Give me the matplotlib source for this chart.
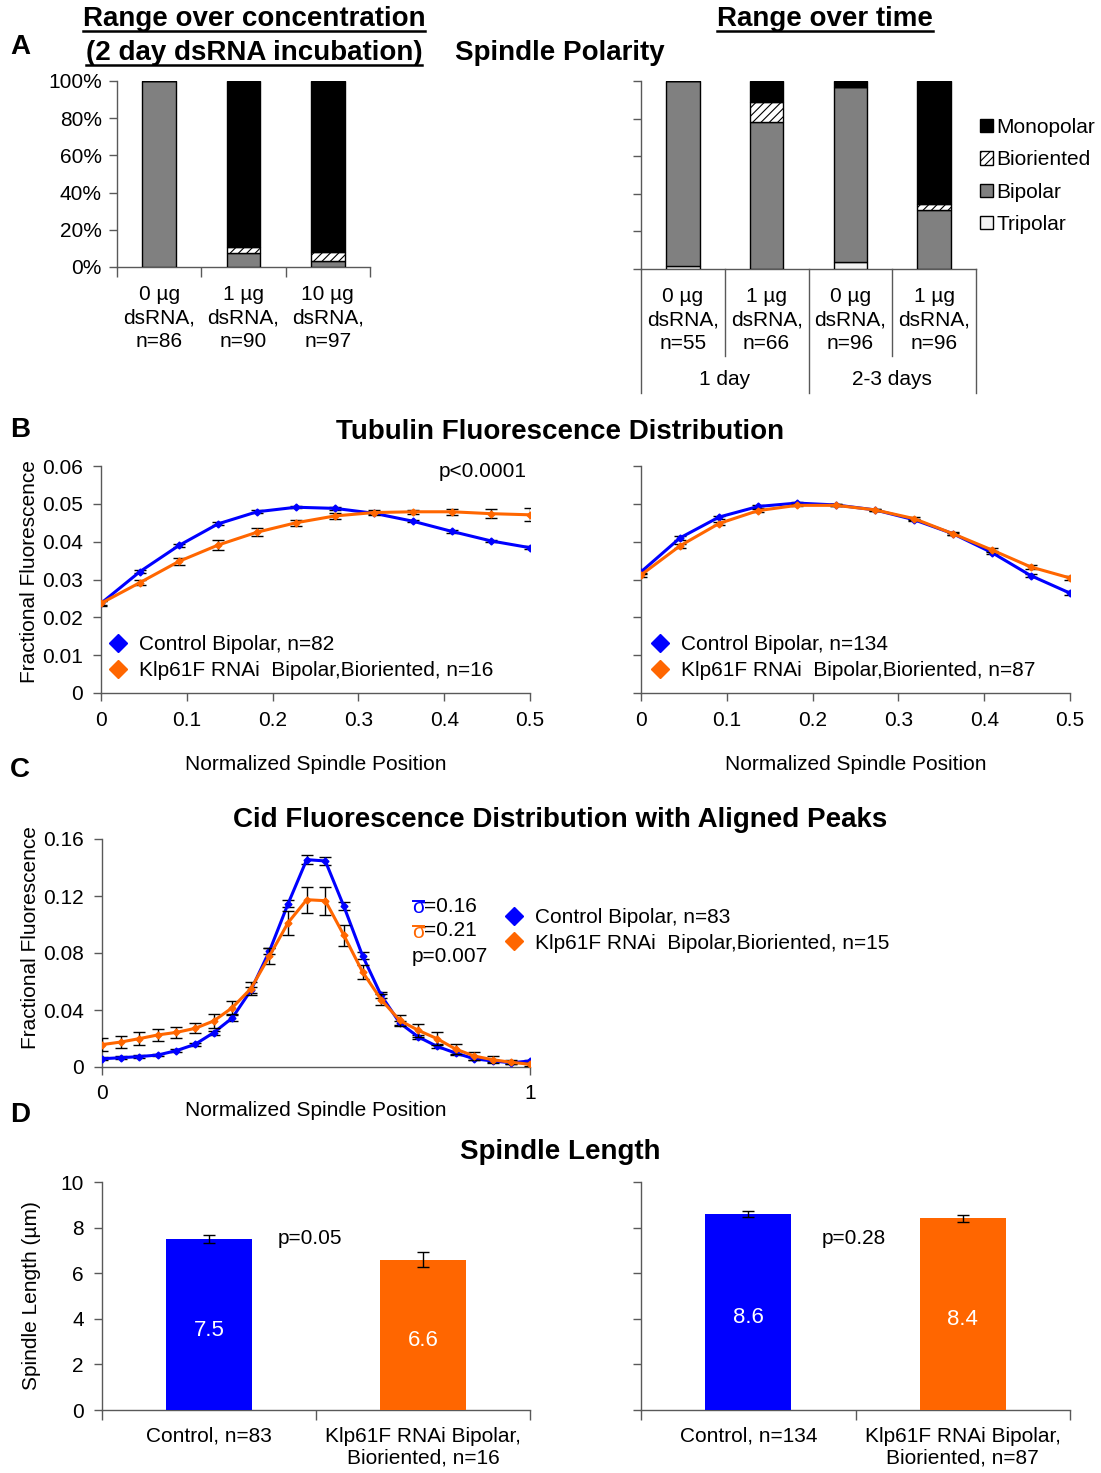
import matplotlib
matplotlib.use('Agg')
import matplotlib.pyplot as plt
from matplotlib.lines import Line2D
from matplotlib.patches import Patch

plt.rcParams['font.family'] = ['Liberation Sans', 'DejaVu Sans']
plt.rcParams['font.size'] = 15
plt.rcParams['hatch.linewidth'] = 0.8

W, H = 1101, 1473
BLUE = '#0000FF'
ORANGE = '#FF6600'
AXC = '#595959'

# ---- panel A: spindle polarity (percent of spindles) ----
conc_labels = ['0 µg\ndsRNA,\nn=86', '1 µg\ndsRNA,\nn=90', '10 µg\ndsRNA,\nn=97']
conc_tripolar = [0, 0, 0]
conc_bipolar = [100, 7.7, 3.0]
conc_bioriented = [0, 2.9, 5.1]
conc_monopolar = [0, 89.4, 91.9]

time_labels = ['0 µg\ndsRNA,\nn=55', '1 µg\ndsRNA,\nn=66', '0 µg\ndsRNA,\nn=96', '1 µg\ndsRNA,\nn=96']
time_groups = ['1 day', '2-3 days']
time_tripolar = [1.8, 0, 3.5, 0]
time_bipolar = [98.2, 78.4, 93.1, 31.5]
time_bioriented = [0, 10.4, 0, 3.0]
time_monopolar = [0, 11.2, 3.4, 65.5]

pct_ticks = [0, 20, 40, 60, 80, 100]

# ---- panel B: tubulin fluorescence ----
tub_x = [0, 0.0455, 0.0909, 0.1364, 0.1818, 0.2273, 0.2727, 0.3182, 0.3636, 0.4091, 0.4545, 0.5]
tub1_ctrl = [0.0237, 0.0321, 0.0390, 0.0447, 0.0479, 0.0491, 0.0488, 0.0475, 0.0454, 0.0427, 0.0402, 0.0384]
tub1_ctrl_err = [0.0006, 0.0005, 0.0004, 0.0004, 0.0004, 0.0003, 0.0003, 0.0003, 0.0003, 0.0003, 0.0003, 0.0004]
tub1_rnai = [0.0237, 0.0292, 0.0348, 0.0391, 0.0425, 0.0450, 0.0468, 0.0477, 0.0479, 0.0479, 0.0474, 0.0471]
tub1_rnai_err = [0.0005, 0.0007, 0.0010, 0.0014, 0.0010, 0.0008, 0.0007, 0.0006, 0.0006, 0.0008, 0.0012, 0.0017]
tub2_ctrl = [0.0320, 0.0410, 0.0465, 0.0493, 0.0502, 0.0497, 0.0484, 0.0458, 0.0421, 0.0371, 0.0310, 0.0264]
tub2_ctrl_err = [0.0005, 0.0005, 0.0004, 0.0004, 0.0003, 0.0003, 0.0003, 0.0003, 0.0003, 0.0004, 0.0004, 0.0005]
tub2_rnai = [0.0312, 0.0389, 0.0448, 0.0482, 0.0496, 0.0496, 0.0484, 0.0461, 0.0421, 0.0378, 0.0333, 0.0304]
tub2_rnai_err = [0.0005, 0.0005, 0.0005, 0.0004, 0.0003, 0.0003, 0.0003, 0.0004, 0.0004, 0.0005, 0.0006, 0.0006]
tub_yticks = [0, 0.01, 0.02, 0.03, 0.04, 0.05, 0.06]
tub_xticks = [0, 0.1, 0.2, 0.3, 0.4, 0.5]

# ---- panel C: cid fluorescence ----
cid_x = [0, 0.0435, 0.087, 0.1304, 0.1739, 0.2174, 0.2609, 0.3043, 0.3478, 0.3913, 0.4348, 0.4783,
         0.5217, 0.5652, 0.6087, 0.6522, 0.6957, 0.7391, 0.7826, 0.8261, 0.8696, 0.913, 0.9565, 1.0]
cid_ctrl = [0.0058, 0.0065, 0.0073, 0.0084, 0.0115, 0.0159, 0.0241, 0.0344, 0.0538, 0.0814, 0.1146, 0.1455,
            0.1446, 0.1127, 0.0781, 0.0503, 0.0309, 0.0211, 0.0145, 0.0098, 0.0058, 0.0042, 0.0030, 0.0042]
cid_ctrl_err = [0.0012, 0.0011, 0.0010, 0.0010, 0.0011, 0.0012, 0.0015, 0.0018, 0.0020, 0.0022, 0.0026, 0.0030,
                0.0030, 0.0028, 0.0023, 0.0020, 0.0017, 0.0015, 0.0013, 0.0012, 0.0010, 0.0009, 0.0008, 0.0008]
cid_rnai = [0.0157, 0.0175, 0.0199, 0.0225, 0.0243, 0.0271, 0.0323, 0.0416, 0.0550, 0.0779, 0.1013, 0.1174,
            0.1167, 0.0924, 0.0667, 0.0473, 0.0327, 0.0257, 0.0199, 0.0126, 0.0077, 0.0051, 0.0033, 0.0019]
cid_rnai_err = [0.0047, 0.0045, 0.0047, 0.0044, 0.0040, 0.0035, 0.0047, 0.0044, 0.0043, 0.0055, 0.0084, 0.0090,
                0.0097, 0.0073, 0.0050, 0.0037, 0.0037, 0.0043, 0.0047, 0.0035, 0.0030, 0.0023, 0.0015, 0.0010]
cid_yticks = [0, 0.04, 0.08, 0.12, 0.16]
cid_xticks = [0, 1]

# ---- panel D: spindle length ----
len1_labels = ['Control, n=83', 'Klp61F RNAi Bipolar,\nBioriented, n=16']
len1_vals = [7.5, 6.6]
len1_err = [0.18, 0.34]
len2_labels = ['Control, n=134', 'Klp61F RNAi Bipolar,\nBioriented, n=87']
len2_vals = [8.6, 8.4]
len2_err = [0.13, 0.17]
len_yticks = [0, 2, 4, 6, 8, 10]


fig = plt.figure(figsize=(W / 100, H / 100), dpi=100)


def box(x0, y0, x1, y1):
    # pixel box (top-left origin) -> figure rect
    return [x0 / W, 1 - y1 / H, (x1 - x0) / W, (y1 - y0) / H]


def ftext(x, y, s, **kw):
    kw.setdefault('ha', 'center')
    kw.setdefault('va', 'center')
    return fig.text(x / W, 1 - y / H, s, **kw)


def style(ax):
    for s in ['top', 'right']:
        ax.spines[s].set_visible(False)
    for s in ['left', 'bottom']:
        ax.spines[s].set_color(AXC)
        ax.spines[s].set_linewidth(1.0)
    ax.tick_params(color=AXC, length=6, width=1, direction='out', labelsize=15)


def stacked(ax, labels, layers):
    n = len(labels)
    bottom = [0.0] * n
    for vals, col, hatch in layers:
        ax.bar(range(n), vals, 0.4, bottom=bottom, color=col, edgecolor='black',
               hatch=hatch, linewidth=1, zorder=3)
        bottom = [b + v for b, v in zip(bottom, vals)]
    ax.set_xlim(-0.5, n - 0.5)
    ax.set_ylim(0, 100)
    ax.set_yticks(pct_ticks)
    ax.set_xticks([i - 0.5 for i in range(n + 1)])
    ax.set_xticklabels([])
    ax.set_xticks(range(n), minor=True)
    ax.set_xticklabels(labels, minor=True, linespacing=1.3)
    ax.tick_params(axis='x', which='minor', length=0, pad=13, labelsize=15)
    ax.tick_params(axis='x', which='major', length=7)


GRAY = '#808080'
LIGHT = '#f2f2f2'

# ---------------- A ----------------
axA1 = fig.add_axes(box(117, 81, 370, 267))
style(axA1)
stacked(axA1, conc_labels, [(conc_tripolar, LIGHT, None), (conc_bipolar, GRAY, None),
                            (conc_bioriented, 'white', '////'), (conc_monopolar, 'black', None)])
axA1.set_yticklabels([f'{v}%' for v in pct_ticks])
axA1.tick_params(axis='y', pad=5)

axA2 = fig.add_axes(box(641, 81, 976, 269))
style(axA2)
stacked(axA2, time_labels, [(time_tripolar, LIGHT, None), (time_bipolar, GRAY, None),
                            (time_bioriented, 'white', '////'), (time_monopolar, 'black', None)])
axA2.set_yticklabels([])
axA2.tick_params(axis='x', which='major', length=0)
tr = axA2.get_xaxis_transform()
for xb in [-0.5, 0.5, 1.5, 2.5, 3.5]:
    yb = -0.66 if xb in (-0.5, 1.5, 3.5) else -0.463
    axA2.plot([xb, xb], [0, yb], color=AXC, lw=1, transform=tr, clip_on=False)
for gi, g in enumerate(time_groups):
    axA2.text(2 * gi + 0.5, -0.59, g, transform=tr, ha='center', va='center', fontsize=15)

legA = [Patch(facecolor='black', edgecolor='black', label='Monopolar'),
        Patch(facecolor='white', edgecolor='black', hatch='////', label='Bioriented'),
        Patch(facecolor=GRAY, edgecolor='black', label='Bipolar'),
        Patch(facecolor=LIGHT, edgecolor='black', label='Tripolar')]
axA2.legend(handles=legA, loc='upper left', bbox_to_anchor=(980 / W, 1 - 118 / H),
            bbox_transform=fig.transFigure, frameon=False, borderpad=0, borderaxespad=0,
            handlelength=0.6, handleheight=0.6, handletextpad=0.2, labelspacing=0.64, fontsize=15)

ftext(20, 47, 'A', fontsize=20, fontweight='bold')
t1 = ftext(254, 19, 'Range over concentration', fontsize=20, fontweight='bold')
t2 = ftext(254, 53, '(2 day dsRNA incubation)', fontsize=20, fontweight='bold')
t3 = ftext(825, 19, 'Range over time', fontsize=20, fontweight='bold')
ftext(560, 53, 'Spindle Polarity', fontsize=20, fontweight='bold')


# ---------------- B ----------------
def tub_panel(rect, ctrl, ctrl_err, rnai, rnai_err, labels, ylab, leg_xy):
    ax = fig.add_axes(box(*rect))
    style(ax)
    ax.errorbar(tub_x, ctrl, yerr=ctrl_err, color=BLUE, lw=2.2, marker='D', ms=3.5,
                ecolor='black', elinewidth=1, capsize=4, capthick=1, zorder=3)
    ax.errorbar(tub_x, rnai, yerr=rnai_err, color=ORANGE, lw=2.2, marker='D', ms=3.5,
                ecolor='black', elinewidth=1, capsize=4, capthick=1, zorder=4)
    ax.set_xlim(0, 0.5)
    ax.set_ylim(0, 0.06)
    ax.set_xticks(tub_xticks)
    ax.set_xticklabels(['{:g}'.format(v) for v in tub_xticks])
    ax.set_yticks(tub_yticks)
    if ylab:
        ax.set_yticklabels(['{:g}'.format(v) for v in tub_yticks])
        ax.set_ylabel('Fractional Fluorescence', fontsize=15)
        ax.yaxis.set_label_coords(-0.145, 0.533)
    else:
        ax.set_yticklabels([])
    ax.tick_params(axis='x', pad=7)
    ax.tick_params(axis='y', pad=7)
    ax.set_xlabel('Normalized Spindle Position', fontsize=15, labelpad=18)
    hs = [Line2D([], [], marker='D', color=BLUE, ls='none', ms=9, label=labels[0]),
          Line2D([], [], marker='D', color=ORANGE, ls='none', ms=9, label=labels[1])]
    ax.legend(handles=hs, loc='upper left', bbox_to_anchor=(leg_xy[0] / W, 1 - leg_xy[1] / H),
              bbox_transform=fig.transFigure, frameon=False, borderpad=0, borderaxespad=0,
              handlelength=1.0, handletextpad=0.5, labelspacing=0.36, fontsize=15)
    return ax


tub_panel((101, 466, 530, 693), tub1_ctrl, tub1_ctrl_err, tub1_rnai, tub1_rnai_err,
          ['Control Bipolar, n=82', 'Klp61F RNAi  Bipolar,Bioriented, n=16'], True, (108, 635))
tub_panel((641, 466, 1070, 693), tub2_ctrl, tub2_ctrl_err, tub2_rnai, tub2_rnai_err,
          ['Control Bipolar, n=134', 'Klp61F RNAi  Bipolar,Bioriented, n=87'], False, (650, 635))
ftext(20, 430, 'B', fontsize=20, fontweight='bold')
ftext(560, 432, 'Tubulin Fluorescence Distribution', fontsize=20, fontweight='bold')
ftext(483, 471, 'p<0.0001', fontsize=15)

# ---------------- C ----------------
axC = fig.add_axes(box(102, 839, 530, 1067))
style(axC)
axC.errorbar(cid_x, cid_ctrl, yerr=cid_ctrl_err, color=BLUE, lw=2.2, marker='D', ms=3.5,
             ecolor='black', elinewidth=1, capsize=4, capthick=1, zorder=3)
axC.errorbar(cid_x, cid_rnai, yerr=cid_rnai_err, color=ORANGE, lw=2.2, marker='D', ms=3.5,
             ecolor='black', elinewidth=1, capsize=4, capthick=1, zorder=4)
axC.set_xlim(0, 1)
axC.set_ylim(0, 0.16)
axC.set_xticks(cid_xticks)
axC.set_xticklabels(['{:g}'.format(v) for v in cid_xticks])
axC.set_yticks(cid_yticks)
axC.set_yticklabels(['{:g}'.format(v) for v in cid_yticks])
axC.tick_params(axis='x', pad=6)
axC.tick_params(axis='y', pad=7)
axC.set_xlabel('Normalized Spindle Position', fontsize=15, labelpad=-1)
axC.set_ylabel('Fractional Fluorescence', fontsize=15)
axC.yaxis.set_label_coords(-0.145, 0.566)
hsC = [Line2D([], [], marker='D', color=BLUE, ls='none', ms=9, label='Control Bipolar, n=83'),
       Line2D([], [], marker='D', color=ORANGE, ls='none', ms=9, label='Klp61F RNAi  Bipolar,Bioriented, n=15')]
axC.legend(handles=hsC, loc='upper left', bbox_to_anchor=(504 / W, 1 - 908 / H),
           bbox_transform=fig.transFigure, frameon=False, borderpad=0, borderaxespad=0,
           handlelength=1.0, handletextpad=0.5, labelspacing=0.32, fontsize=15)
ftext(20, 770, 'C', fontsize=20, fontweight='bold')
ftext(560, 820, 'Cid Fluorescence Distribution with Aligned Peaks', fontsize=20, fontweight='bold')
s1 = ftext(412, 907, 'σ', color=BLUE, fontsize=15, ha='left')
ftext(424, 906, '=0.16', ha='left', fontsize=15)
s2 = ftext(412, 932, 'σ', color=ORANGE, fontsize=15, ha='left')
ftext(424, 931, '=0.21', ha='left', fontsize=15)
ftext(412, 956, 'p=0.007', ha='left', fontsize=15)


# ---------------- D ----------------
def len_panel(rect, vals, err, labels, ylab, ptxt, pxy):
    ax = fig.add_axes(box(*rect))
    style(ax)
    bars = ax.bar([0, 1], vals, 0.4, yerr=err, color=[BLUE, ORANGE], zorder=3,
                  error_kw=dict(elinewidth=1, ecolor='black', capsize=4, capthick=1))
    ax.bar_label(bars, labels=['{:g}'.format(v) for v in vals], label_type='center',
                 color='white', fontsize=16, padding=-4)
    ax.set_xlim(-0.5, 1.5)
    ax.set_ylim(0, 10)
    ax.set_yticks(len_yticks)
    if ylab:
        ax.set_yticklabels([str(v) for v in len_yticks])
        ax.set_ylabel('Spindle Length (µm)', fontsize=15, labelpad=14)
    else:
        ax.set_yticklabels([])
    ax.tick_params(axis='y', pad=7)
    ax.set_xticks([-0.5, 0.5, 1.5])
    ax.set_xticklabels([])
    ax.set_xticks([0, 1], minor=True)
    ax.set_xticklabels(labels, minor=True)
    ax.tick_params(axis='x', which='minor', length=0, pad=12, labelsize=15)
    ax.tick_params(axis='x', which='major', length=7)
    ftext(pxy[0], pxy[1], ptxt, fontsize=15)
    return ax


len_panel((102, 1182, 530, 1410), len1_vals, len1_err, len1_labels, True, 'p=0.05', (310, 1238))
len_panel((641, 1182, 1070, 1410), len2_vals, len2_err, len2_labels, False, 'p=0.28', (854, 1238))
ftext(20, 1115, 'D', fontsize=20, fontweight='bold')
ftext(560, 1152, 'Spindle Length', fontsize=20, fontweight='bold')

# underline the column headers of panel A, overline the sigmas of panel C
fig.canvas.draw()
rend = fig.canvas.get_renderer()
inv = fig.transFigure.inverted()
for t in (t1, t2, t3):
    bb = t.get_window_extent(rend)
    (x0, y0), (x1, _) = inv.transform([(bb.x0, bb.y0 + 1), (bb.x1, bb.y0 + 1)])
    fig.add_artist(Line2D([x0, x1], [y0, y0], color='black', lw=1.8, transform=fig.transFigure))
for t in (s1, s2):
    bb = t.get_window_extent(rend)
    (x0, y0), (x1, _) = inv.transform([(bb.x0 + 1, bb.y1 - 3), (bb.x1 - 1, bb.y1 - 3)])
    fig.add_artist(Line2D([x0, x1], [y0, y0], color=t.get_color(), lw=1.4, transform=fig.transFigure))

fig.savefig('out.png', dpi=100)
